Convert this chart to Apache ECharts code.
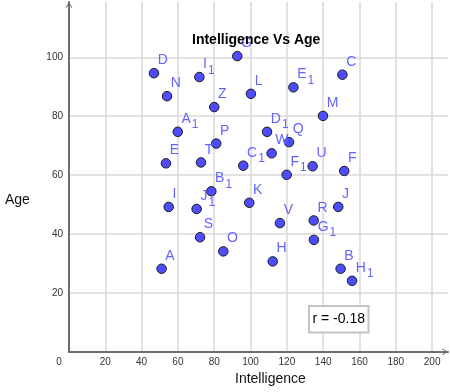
<!DOCTYPE html>
<html>
<head>
<meta charset="utf-8">
<script src="https://cdn.jsdelivr.net/npm/echarts@6/dist/echarts.min.js"></script>
<style>html,body{margin:0;padding:0;background:#fff}#c{width:450px;height:392px}</style>
</head>
<body>
<div id="c"></div>
<script>
const names = ['A','B','C','D','E','F','G','H','I','J','K','L','M','N','O','P','Q','R','S','T','U','V','W','Z',
               'A1','B1','C1','D1','E1','F1','G1','H1','I1','J1'];
const intelligence = [51.0,149.6,150.6,46.8,53.4,151.6,92.7,112.2,54.9,148.3,99.3,100.2,139.9,54.0,85.0,81.1,121.2,134.8,72.2,72.7,134.2,116.2,111.6,80.0,
                      59.9,78.4,96.0,109.1,123.6,119.9,134.9,155.9,71.8,70.3];
const age = [28.2,28.2,94.1,94.6,64.0,61.4,100.4,30.7,49.2,49.2,50.6,87.6,80.1,86.8,34.1,70.7,71.2,44.6,38.9,64.3,63.0,43.7,67.4,83.1,
             74.7,54.5,63.2,74.7,89.8,60.1,38.0,24.1,93.3,48.5];
const xTicks = [0,20,40,60,80,100,120,140,160,180,200];
const yTicks = [20,40,60,80,100];
const titleText = 'Intelligence Vs Age';
const xName = 'Intelligence';
const yName = 'Age';
const rText = 'r = -0.18';

const chart = echarts.init(document.getElementById('c'), null, {renderer:'canvas'});
const font = 'Liberation Sans, Arial, sans-serif';
const ptColor = '#4d4dff';
const lblColor = '#6464ff';
const chevron = 'path://M0,8 L5,0 L10,8 L8.8,8.8 L5,2.4 L1.2,8.8 Z';

const axisCommon = {
  type: 'value', min: 0, interval: 20,
  axisTick: {show:false},
  axisLine: {show:true, onZero:true, lineStyle:{color:'#6e6e6e', width:2},
             symbol:['none', chevron], symbolSize:[9,6], symbolOffset:[0,-3]},
  splitLine: {show:true, showMinLine:false, showMaxLine:false, lineStyle:{color:'#d9d9d9', width:1.5}},
};

chart.setOption({
  animation: false,
  title: {text: titleText, left: 192, top: 33, padding: 0, z: 10,
          textStyle:{fontFamily:font, fontSize:14, fontWeight:'bold', color:'#000'}},
  grid: {left:69, right:2, top:2, bottom:40.2, containLabel:false},
  xAxis: Object.assign({}, axisCommon, {
    max: 208.76,
    axisLabel: {show:true, margin:5, fontFamily:font, fontSize:10, color:'#333',
      showMaxLabel:false,
      formatter: v => v === 0 ? '{o|0}' : (xTicks.indexOf(v) >= 0 ? String(v) : ''),
      rich: {o:{fontFamily:font, fontSize:10, color:'#333', padding:[0,20,0,0]}}}
  }),
  yAxis: Object.assign({}, axisCommon, {
    max: 118.78,
    axisLabel: {show:true, margin:6, fontFamily:font, fontSize:10, color:'#333',
      showMaxLabel:false,
      formatter: v => yTicks.indexOf(v) >= 0 ? String(v) : ''}
  }),
  series: [{
    type: 'scatter',
    symbol: 'circle',
    symbolSize: 9.5,
    itemStyle: {color: ptColor, borderColor:'#1a1a1a', borderWidth:1, opacity:1},
    emphasis: {disabled:true},
    data: names.map((n,i) => ({name:n, value:[intelligence[i], age[i]]})),
    label: {
      show: true, position: [9, -14.5], align:'left', verticalAlign:'top',
      formatter: p => p.name.length > 1 ? '{m|' + p.name[0] + '}{s|' + p.name.slice(1) + '}' : '{m|' + p.name + '}',
      rich: {
        m: {fontFamily:font, fontSize:14, color:lblColor, verticalAlign:'top', lineHeight:14},
        s: {fontFamily:font, fontSize:12, color:lblColor, verticalAlign:'top', padding:[7,0,0,1], lineHeight:12}
      }
    },
    z: 3
  }],
  graphic: [
    {type:'text', left:5, top:193, z:100, style:{text:yName, font:'14px '+font, fill:'#111'}},
    {type:'text', left:235, top:372, z:100, style:{text:xName, font:'14px '+font, fill:'#111'}},
    {type:'group', left:308, top:305, z:100, children:[
      {type:'rect', z:100, shape:{x:0, y:0, width:59.5, height:26.5}, style:{fill:'#fff', stroke:'#c4c4c4', lineWidth:2}},
      {type:'text', z:101, x:29.75, y:13.25, style:{text:rText, font:'14px '+font, fill:'#000', align:'center', verticalAlign:'middle'}}
    ]}
  ]
});
</script>
</body>
</html>
